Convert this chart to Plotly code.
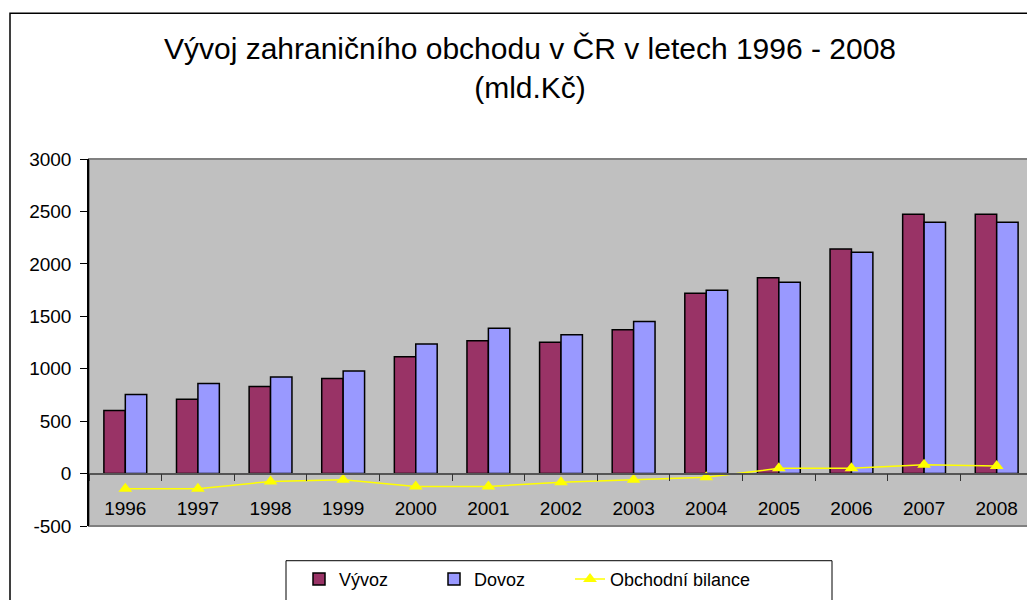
import plotly.graph_objects as go

years = ["1996", "1997", "1998", "1999", "2000", "2001", "2002",
         "2003", "2004", "2005", "2006", "2007", "2008"]
vyvoz = [601, 708, 830, 906, 1113, 1267, 1252, 1371, 1720, 1868, 2142, 2472, 2472]
dovoz = [755, 858, 922, 978, 1236, 1387, 1324, 1450, 1748, 1824, 2110, 2396, 2396]
bilance = [-144, -144, -75, -60, -123, -123, -82, -60, -35, 50, 50, 85, 72]
y_ticks = [-500, 0, 500, 1000, 1500, 2000, 2500, 3000]

FONT = "Liberation Sans, Arial, sans-serif"

# page is 1035x600 but the body has an 8px margin, so the figure starts at (8, 8)
OFF = 8
W, H = 1035 - OFF, 600 - OFF
# plot area in page pixels
L, R, T, B = 89, 1033, 159, 529
y_lo, y_hi = -500, 3000
zero_pos = (0 - y_lo) / (y_hi - y_lo)


def px_x(p):
    return (p - L) / (R - L)


def px_y(p):
    return (B - p) / (B - T)


def legend_at(text_left):
    # legend box left edge sits about 40px before the item text
    return dict(
        x=px_x(text_left - 40), xanchor="left",
        y=px_y(564), yanchor="top",
        bgcolor="rgba(0,0,0,0)", borderwidth=0,
        font=dict(size=18),
    )


fig = go.Figure()
fig.add_trace(go.Bar(
    x=years, y=vyvoz, name="Vývoz", legend="legend",
    marker=dict(color="#993366", line=dict(color="black", width=1.5)),
))
fig.add_trace(go.Bar(
    x=years, y=dovoz, name="Dovoz", legend="legend2",
    marker=dict(color="#9999FF", line=dict(color="black", width=1.5)),
))
fig.add_trace(go.Scatter(
    x=years, y=bilance, name="Obchodní bilance", mode="lines+markers",
    legend="legend3",
    line=dict(color="#FFFF00", width=1.5),
    marker=dict(symbol="triangle-up", size=12, color="#FFFF00"),
))

fig.update_layout(
    width=W, height=H,
    margin=dict(l=L - OFF, r=W - (R - OFF), t=T - OFF, b=H - (B - OFF), pad=0),
    paper_bgcolor="white",
    plot_bgcolor="#C0C0C0",
    font=dict(family=FONT, size=19, color="black"),
    showlegend=True,
    barmode="group",
    bargap=0.41,
    bargroupgap=0,
    title=dict(
        text="Vývoj zahraničního obchodu v ČR v letech 1996 - 2008<br>(mld.Kč)",
        x=(530 - OFF) / W, xanchor="center", xref="container",
        y=1 - (59 - OFF) / H, yanchor="middle", yref="container",
        font=dict(family=FONT, size=30, color="black"),
    ),
    xaxis=dict(
        type="category", range=[-0.5, 12.5],
        anchor="free", position=zero_pos,
        showline=True, linecolor="#555555", linewidth=1.5,
        ticks="outside", tickson="boundaries", ticklen=7, tickwidth=1,
        tickcolor="#333333", ticklabelstandoff=18,
        showgrid=False, zeroline=False,
        tickfont=dict(size=19),
    ),
    xaxis2=dict(
        overlaying="x", anchor="free", position=zero_pos,
        range=[-0.5, 12.5], tickmode="array",
        tickvals=[i + 0.5 for i in range(-1, 13)],
        ticks="inside", ticklen=7, tickwidth=1, tickcolor="#333333",
        showticklabels=False, showgrid=False, zeroline=False, showline=False,
    ),
    yaxis=dict(
        range=[y_lo, y_hi], tickmode="array",
        tickvals=y_ticks, ticktext=[str(v) for v in y_ticks],
        showline=True, linecolor="black", linewidth=1.5,
        ticks="outside", ticklen=7, tickcolor="black", ticklabelstandoff=5,
        showgrid=False, zeroline=False,
        tickfont=dict(size=19),
    ),
    legend=legend_at(339),
    legend2=legend_at(474),
    legend3=legend_at(610),
    shapes=[
        dict(type="rect", xref="paper", yref="paper",
             x0=0, x1=1, y0=0, y1=1,
             line=dict(color="#808080", width=2), layer="below"),
        dict(type="rect", xref="paper", yref="paper",
             x0=px_x(10), x1=px_x(1060), y0=px_y(640), y1=px_y(12),
             line=dict(color="black", width=1.5), layer="below"),
        # legend frame
        dict(type="rect", xref="paper", yref="paper",
             x0=px_x(286), x1=px_x(832), y0=px_y(640), y1=px_y(564),
             fillcolor="white", line=dict(color="black", width=1), layer="below"),
    ],
)

fig.write_html("out.html")
